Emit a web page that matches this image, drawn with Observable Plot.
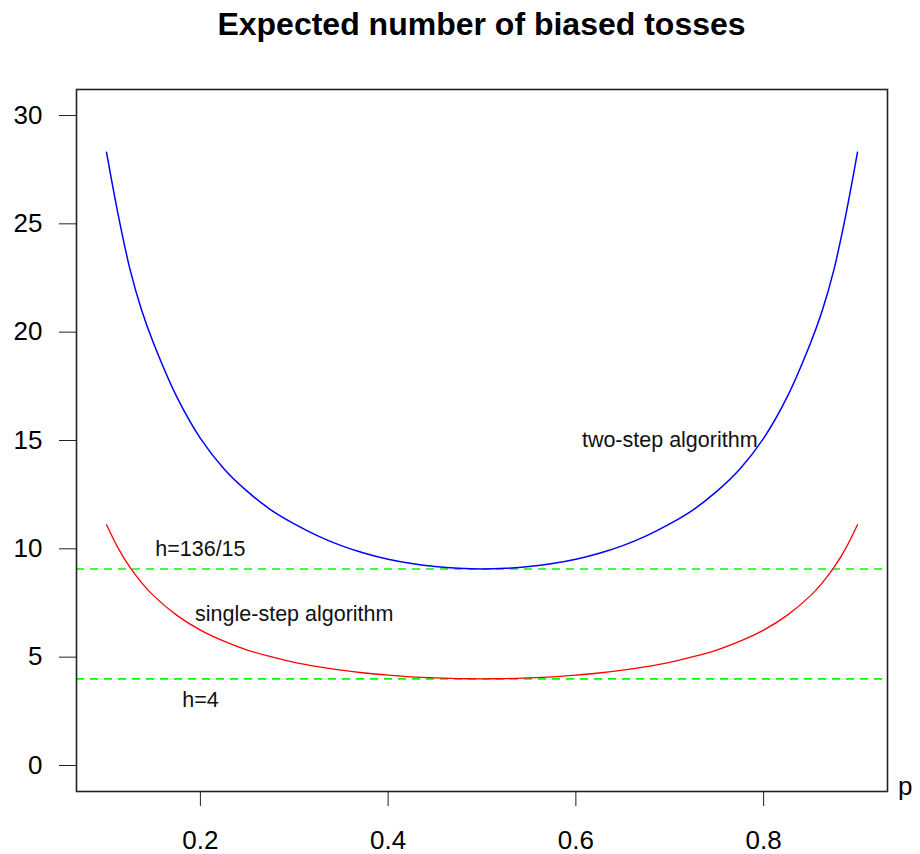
<!DOCTYPE html>
<html>
<head>
<meta charset="utf-8">
<script src="https://cdn.jsdelivr.net/npm/d3@7"></script>
<script src="https://cdn.jsdelivr.net/npm/@observablehq/plot@0.6"></script>
<style>
  html, body { margin: 0; padding: 0; background: #fff; }
  #wrap { width: 920px; height: 854px; position: relative; }
  #title {
    box-sizing: border-box; height: 60px; padding: 8px 33px 0 76px;
    text-align: center; font-family: "Liberation Sans", Arial, sans-serif;
    font-weight: bold; font-size: 32px; line-height: 32px; color: #000;
  }
  svg { display: block; }
</style>
</head>
<body>
<div id="wrap">
  <div id="title">Expected number of biased tosses</div>
  <div id="chart"></div>
</div>
<script>
// probability of heads
const pVals = [0.1, 0.1125, 0.125, 0.1375, 0.15, 0.175, 0.2, 0.225, 0.25, 0.275, 0.3, 0.325, 0.35, 0.375, 0.4, 0.425, 0.45, 0.475, 0.5,
               0.525, 0.55, 0.575, 0.6, 0.625, 0.65, 0.675, 0.7, 0.725, 0.75, 0.775, 0.8, 0.825, 0.85, 0.8625, 0.875, 0.8875, 0.9];
// expected tosses, single-step algorithm (red)
const singleStep = [11.11, 10.02, 9.14, 8.43, 7.84, 6.93, 6.25, 5.74, 5.33, 5.02, 4.76, 4.56, 4.40, 4.27, 4.17, 4.09, 4.04, 4.01, 4.00,
                    4.01, 4.04, 4.09, 4.17, 4.27, 4.40, 4.56, 4.76, 5.02, 5.33, 5.74, 6.25, 6.93, 7.84, 8.43, 9.14, 10.02, 11.11];
// expected tosses, two-step algorithm (blue)
const twoStep = [28.3, 25.4, 22.9, 21.0, 19.5, 17.0, 15.1, 13.7, 12.65, 11.8, 11.15, 10.6, 10.15, 9.8, 9.52, 9.32, 9.18, 9.1, 9.07,
                 9.1, 9.18, 9.32, 9.52, 9.8, 10.15, 10.6, 11.15, 11.8, 12.65, 13.7, 15.1, 17.0, 19.5, 21.0, 22.9, 25.4, 28.3];
// reference lines
const hLines = [136 / 15, 4];
// annotations
const labelText = ["h=136/15", "single-step algorithm", "h=4", "two-step algorithm"];
const labelX = [0.2, 0.3, 0.2, 0.7];
const labelY = [10, 7, 3, 15];
// ticks
const xTicks = [0.2, 0.4, 0.6, 0.8];
const yTicks = [0, 5, 10, 15, 20, 25, 30];

const rows = pVals.map((p, i) => ({p, single: singleStep[i], two: twoStep[i]}));
const labels = labelText.map((t, i) => ({text: t, x: labelX[i], y: labelY[i]}));

const font = '"Liberation Sans", Arial, sans-serif';

const chart = Plot.plot({
  width: 920,
  height: 794,
  marginLeft: 76,
  marginRight: 33,
  marginTop: 29,
  marginBottom: 63,
  style: {fontFamily: font, fontSize: "26px", color: "#000", background: "#fff"},
  x: {domain: [0.068, 0.932]},
  y: {domain: [-1.2, 31.2]},
  marks: [
    Plot.ruleY(hLines, {stroke: "#00FF00", strokeWidth: 1.6, strokeDasharray: "8,6"}),
    Plot.line(rows, {x: "p", y: "two", stroke: "#0000FF", strokeWidth: 1.5, curve: "catmull-rom"}),
    Plot.line(rows, {x: "p", y: "single", stroke: "#FF0000", strokeWidth: 1.3, curve: "catmull-rom"}),
    Plot.text(labels, {x: "x", y: "y", text: "text", fontSize: 21.5, fill: "#111"}),
    Plot.frame({stroke: "#222", strokeWidth: 1.6}),
    Plot.axisY(yTicks, {tickSize: 17, tickPadding: 17, fontSize: 26, label: null, stroke: "#222"}),
    Plot.axisX(xTicks, {tickSize: 15, tickPadding: 24, fontSize: 26, label: null, stroke: "#222"}),
    Plot.text(["p"], {frameAnchor: "bottom-right", text: d => d, dx: 25, dy: 3, fontSize: 26})
  ]
});
document.getElementById("chart").appendChild(chart);
</script>
</body>
</html>
